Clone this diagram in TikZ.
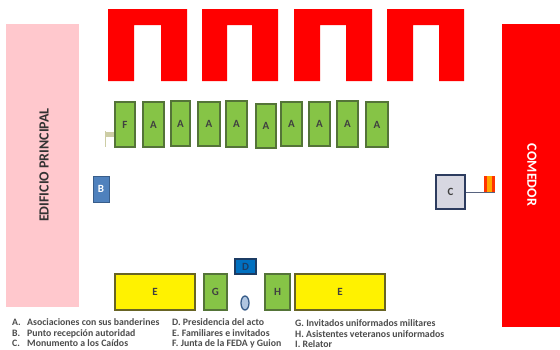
\documentclass[tikz,border=0pt]{standalone}
\usepackage{fontspec}
\setmainfont{Carlito}
\usetikzlibrary{shapes.geometric}

\definecolor{boxGreen}{RGB}{134,196,70}
\definecolor{boxGreenLine}{RGB}{84,116,56}
\definecolor{boxYellowLine}{RGB}{104,100,36}
\definecolor{wallPink}{RGB}{255,200,205}
\definecolor{flagTan}{RGB}{205,205,165}
\definecolor{pointBlue}{RGB}{79,129,189}
\definecolor{pointBlueLine}{RGB}{56,93,138}
\definecolor{deskBlue}{RGB}{0,112,192}
\definecolor{deskBlueLine}{RGB}{28,60,100}
\definecolor{monumentGrey}{RGB}{215,215,225}
\definecolor{monumentLine}{RGB}{45,60,95}

\begin{document}
\begin{tikzpicture}[
    x=1pt, y=-1pt,
    % Style for the green boxes
    greenBox/.style={
        rectangle,
        draw=boxGreenLine,
        fill=boxGreen,
        line width=1.3pt,
        inner sep=0pt,
        font=\bfseries\fontsize{11}{11}\selectfont,
        text=black!75
    },
    % Style for the yellow boxes
    yellowBox/.style={
        rectangle,
        draw=boxYellowLine,
        fill=yellow,
        line width=1.3pt,
        inner sep=0pt,
        font=\bfseries\fontsize{11}{11}\selectfont,
        text=black!75
    },
    % Style for the legend lines
    legendLabel/.style={
        anchor=base west,
        inner sep=0pt,
        font=\bfseries\fontsize{9.8}{10}\selectfont,
        text=black!70
    },
    % Style for the big buildings
    bigLabel/.style={
        inner sep=0pt,
        font=\bfseries\fontsize{14}{14}\selectfont
    }
]
    \useasboundingbox (0,0) rectangle (560,349);

    % --- BUILDINGS ---
    \node[fill=wallPink, inner sep=0pt, minimum width=73pt, minimum height=283pt] (edificio) at (42.5,165.5) {};
    \node[bigLabel, rotate=90, text=black!80] (edificioText) at (44,165) {EDIFICIO PRINCIPAL};
    \node[fill=red, inner sep=0pt, minimum width=58pt, minimum height=303pt] (comedor) at (531,175.5) {};
    \node[bigLabel, rotate=-90, text=white] (comedorText) at (532,175) {COMEDOR};

    % --- TOP BLOCKS ---
    \foreach \xa/\xb/\xc/\xd in {108/134/161/187, 202/227/252/278, 294/320/346/372, 387/413/439/464}
        \fill[red] (\xa,9) -- (\xd,9) -- (\xd,81) -- (\xc,81) -- (\xc,25) -- (\xb,25) -- (\xb,81) -- (\xa,81) -- cycle;

    % --- GREEN ROW ---
    \node[greenBox, minimum width=20pt, minimum height=45pt] (F) at (125,124.5) {F};
    \foreach \name/\cx/\cy/\w/\h in {A1/153.5/124.5/21/45, A2/180.5/123.5/19/45, A3/209/124/22/44, A4/236.5/124/21/46,
        A5/266/126/20/44, A6/291.5/124/21/44, A7/319.5/124/21/44, A8/347.5/124/21/46, A9/377/124.5/22/45}
        \node[greenBox, minimum width=\w pt, minimum height=\h pt] (\name) at (\cx,\cy) {A};

    % --- SMALL FLAG AT F ---
    \fill[flagTan] (105,132) rectangle (114,137);
    \draw[flagTan, line width=0.6pt] (105,131) -- (105,147);

    % --- B ---
    \node[rectangle, draw=pointBlueLine, fill=pointBlue, line width=0.8pt, inner sep=0pt,
        minimum width=16pt, minimum height=26pt, text=white, font=\bfseries\fontsize{11}{11}\selectfont] (B) at (101,189) {B};

    % --- C AND ITS FLAG ---
    \coordinate (flagEnd) at (495,192);
    \fill[red!60!orange] (484,176) rectangle (495,192);
    \fill[orange!70!yellow] (487,176) rectangle (492,192);
    \node[rectangle, draw=monumentLine, fill=monumentGrey, line width=1.3pt, inner sep=0pt,
        minimum width=29pt, minimum height=34pt, text=black!75, font=\bfseries\fontsize{11}{11}\selectfont] (C) at (450.5,192) {C};
    \draw[monumentLine!80, line width=1pt] (C) -- (flagEnd);

    % --- BOTTOM ROW ---
    \node[yellowBox, minimum width=80pt, minimum height=36pt] (E1) at (155,292) {E};
    \node[greenBox, minimum width=23pt, minimum height=36pt] (G) at (215.5,292) {G};
    \node[rectangle, draw=deskBlueLine, fill=deskBlue, line width=1.2pt, inner sep=0pt,
        minimum width=21pt, minimum height=15pt, text=deskBlueLine, font=\bfseries\fontsize{11}{11}\selectfont] (D) at (245.5,266.5) {D};
    \node[ellipse, draw=pointBlueLine, fill=pointBlue!45, line width=1.3pt, inner sep=0pt,
        minimum width=8pt, minimum height=14pt] (I) at (245,303) {};
    \node[greenBox, minimum width=25pt, minimum height=36pt] (H) at (277.5,292) {H};
    \node[yellowBox, minimum width=90pt, minimum height=36pt] (E2) at (340,292) {E};

    % --- LEGEND ---
    \node[legendLabel] (la) at (12,325) {A.};
    \node[legendLabel] (lat) at (27,325) {Asociaciones con sus banderines};
    \node[legendLabel] (lb) at (12,336) {B.};
    \node[legendLabel] (lbt) at (27,336) {Punto recepción autoridad};
    \node[legendLabel] (lc) at (12,346.5) {C.};
    \node[legendLabel] (lct) at (27,346.5) {Monumento a los Caídos};
    \node[legendLabel] (ld) at (172,325) {D. Presidencia del acto};
    \node[legendLabel] (le) at (172,336) {E. Familiares e invitados};
    \node[legendLabel] (lf) at (172,346.5) {F. Junta de la FEDA y Guion};
    \node[legendLabel] (lg) at (295,326) {G. Invitados uniformados militares};
    \node[legendLabel] (lh) at (295,337) {H. Asistentes veteranos uniformados};
    \node[legendLabel] (li) at (295,347) {I. Relator};
\end{tikzpicture}
\end{document}
